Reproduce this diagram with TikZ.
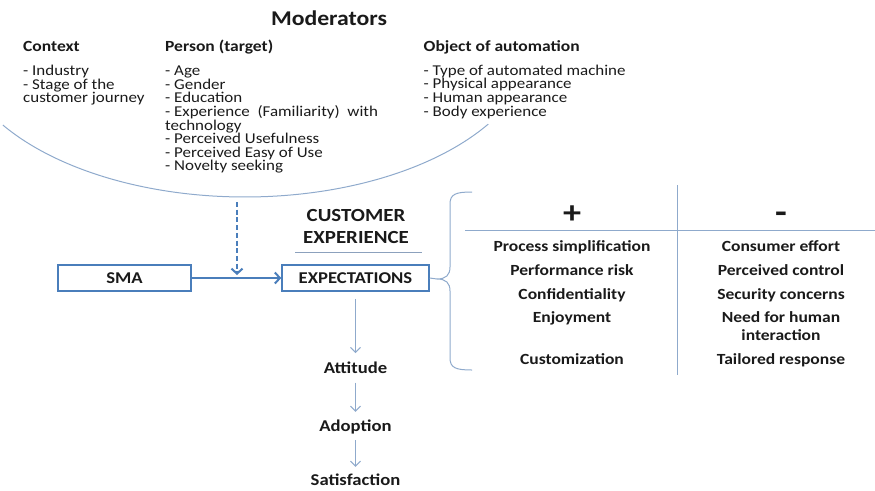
\documentclass[tikz,border=0pt]{standalone}
\usepackage{fontspec}
\setmainfont{Carlito}[FakeStretch=1.13]
\usetikzlibrary{arrows.meta}
\definecolor{boxblue}{HTML}{4A7EBB}
\definecolor{lineblue}{HTML}{8FAACC}
\definecolor{txt}{HTML}{1A1A1A}
\tikzset{
  lbl/.style={inner sep=0pt, text=txt, anchor=base west, font=\fontsize{15}{15}\selectfont},
  hdr/.style={inner sep=0pt, text=txt, anchor=base west, font=\bfseries\fontsize{15.5}{15.5}\selectfont},
  cell/.style={inner sep=0pt, text=txt, anchor=base, font=\bfseries\fontsize{15.5}{15.5}\selectfont},
  boxnode/.style={draw=boxblue, line width=1.5pt, minimum height=26pt, inner sep=0pt, text=txt, font=\bfseries\fontsize{16.5}{16.5}\selectfont},
  stage/.style={inner sep=0pt, text=txt, anchor=base, text height=11pt, text depth=3pt, font=\bfseries\fontsize{16.5}{16.5}\selectfont},
  thinarrow/.style={draw=lineblue, line width=1pt, -{Straight Barb[length=5pt,width=10pt]}},
  thinline/.style={draw=lineblue, line width=1pt},
}
\begin{document}
\begin{tikzpicture}[x=1pt,y=-1pt]
\useasboundingbox (0,0) rectangle (875,490);

% Moderators
\node[inner sep=0pt, text=txt, anchor=base, font=\bfseries\fontsize{21}{21}\selectfont] (mod) at (329,25) {Moderators};

% column headers
\node[hdr] (hctx) at (23,51.5) {Context};
\node[hdr] (hper) at (165,51.5) {Person (target)};
\node[hdr] (hobj) at (423.5,51.5) {Object of automation};

% context list
\node[lbl] (c1) at (23,75.7) {- Industry};
\node[lbl] (c2) at (23,89.3) {- Stage of the};
\node[lbl] (c3) at (23,102.9) {customer journey};

% person list
\node[lbl] (p1) at (165,75.7) {- Age};
\node[lbl] (p2) at (165,89.3) {- Gender};
\node[lbl] (p3) at (165,102.9) {- Education};
\node[lbl] (p4) at (165,116.5) {- Experience\ \ (Familiarity)\ \ with};
\node[lbl] (p5) at (165,130.1) {technology};
\node[lbl] (p6) at (165,143.7) {- Perceived Usefulness};
\node[lbl] (p7) at (165,157.3) {- Perceived Easy of Use};
\node[lbl] (p8) at (165,170.9) {- Novelty seeking};

% object list
\node[lbl] (o1) at (423.5,75.2) {- Type of automated machine};
\node[lbl] (o2) at (423.5,88.8) {- Physical appearance};
\node[lbl] (o3) at (423.5,102.4) {- Human appearance};
\node[lbl] (o4) at (423.5,116) {- Body experience};

% arc
\draw[thinline] plot[domain=213.4:327, samples=80, smooth] ({245+290*cos(\x)},{37-160*sin(\x)});

% customer experience title
\node[inner sep=0pt, text=txt, anchor=base, font=\bfseries\fontsize{18.5}{18.5}\selectfont] (ce1) at (356,221.7) {CUSTOMER};
\node[inner sep=0pt, text=txt, anchor=base, font=\bfseries\fontsize{18.5}{18.5}\selectfont] (ce2) at (356,243.3) {EXPERIENCE};
\coordinate (ulL) at (295,252);
\coordinate (ulR) at (422,252);
\draw[draw=lineblue!80!gray, line width=0.9pt] (ulL) -- (ulR);

% boxes
\node[boxnode, minimum width=133pt] (sma) at (124.5,278) {SMA};
\node[boxnode, minimum width=147pt] (exp) at (355.5,278) {EXPECTATIONS};

% main arrow
\draw[draw=boxblue, line width=2.2pt, -{Straight Barb[length=5pt,width=11pt,line width=2pt]}] (sma.east) -- (exp.west);

% dashed moderator arrow
\coordinate (dtop) at (237,202);
\coordinate (join) at (237,278);
\draw[draw=boxblue, line width=2.5pt, dash pattern=on 5pt off 2.7pt, -{Straight Barb[length=5pt,width=11pt,line width=2pt]}] (dtop) -- ([yshift=3pt]join);

% stages
\node[stage] (att) at (355.5,373.3) {Attitude};
\node[stage] (adp) at (355.5,431.7) {Adoption};
\node[stage] (sat) at (355.5,485.7) {Satisfaction};
\draw[thinarrow, shorten <=7pt, shorten >=9pt] (exp.south) -- (att.north);
\draw[thinarrow, shorten <=6pt, shorten >=8.7pt] (att.south) -- (adp.north);
\draw[thinarrow, shorten <=5.3pt, shorten >=7.7pt] (adp.south) -- (sat.north);

% brace
\coordinate (btip) at (437,279);
\draw[thinline] (exp.east) -- (btip);
\draw[thinline] (472,192) .. controls (456,192) and (450,194) .. (450,204) -- (450,267)
  .. controls (450,275) and (446,279) .. (btip)
  .. controls (446,279) and (450,283) .. (450,291) -- (450,358)
  .. controls (450,368) and (456,370) .. (472,370);

% table lines
\coordinate (vtop) at (677,185);
\coordinate (vbot) at (677,375);
\coordinate (hl) at (465,230);
\coordinate (hr) at (875,230);
\draw[thinline] (vtop) -- (vbot);
\draw[thinline] (hl) -- (hr);

% plus / minus
\node[inner sep=0pt, text=txt, anchor=base, font=\bfseries\fontsize{32}{32}\selectfont] (plus) at (572,223) {+};
\node[inner sep=0pt, text=txt, anchor=base, font=\bfseries\fontsize{34}{34}\selectfont] (minus) at (781,223) {-};

% left column
\node[cell] (l1) at (572,251.7) {Process simplification};
\node[cell] (l2) at (572,275.7) {Performance risk};
\node[cell] (l3) at (572,299) {Confidentiality};
\node[cell] (l4) at (572,322.7) {Enjoyment};
\node[cell] (l5) at (572,364) {Customization};

% right column
\node[cell] (r1) at (781,251.7) {Consumer effort};
\node[cell] (r2) at (781,275.7) {Perceived control};
\node[cell] (r3) at (781,299) {Security concerns};
\node[cell] (r4) at (781,322.7) {Need for human};
\node[cell] (r4b) at (781,340) {interaction};
\node[cell] (r5) at (781,364) {Tailored response};
\end{tikzpicture}
\end{document}
